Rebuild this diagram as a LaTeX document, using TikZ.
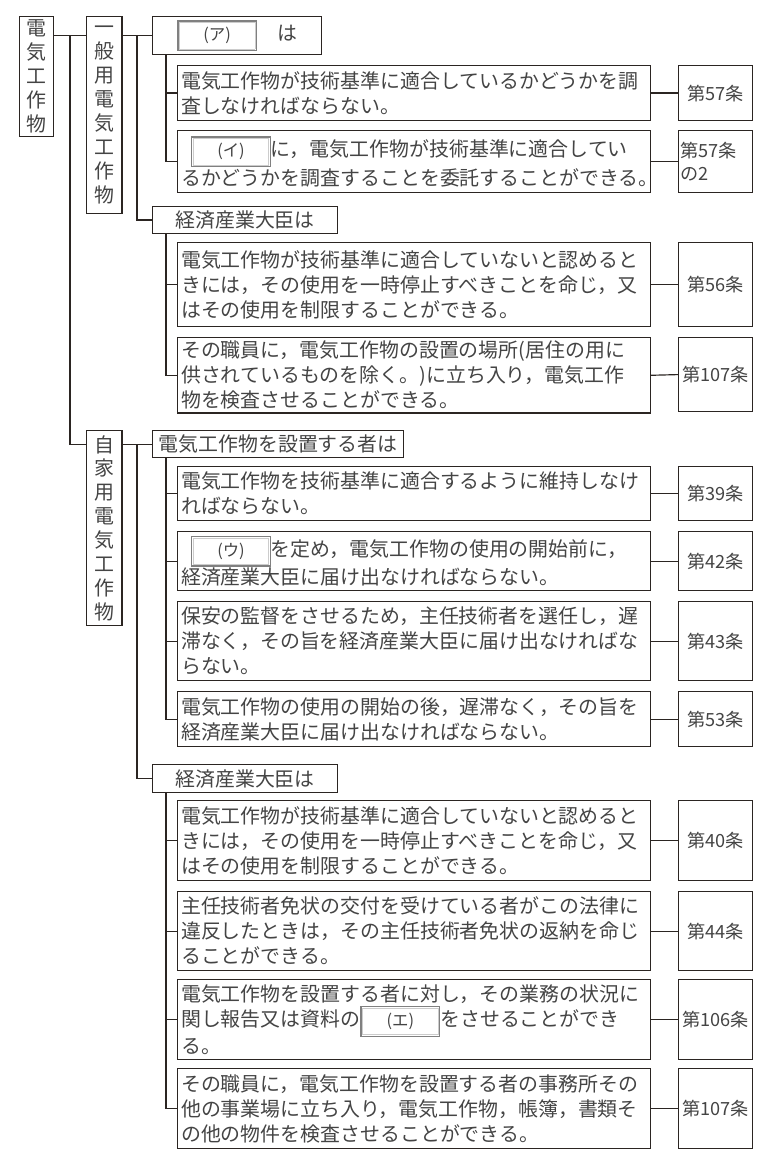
\documentclass[tikz,border=0pt]{standalone}
\usepackage{fontspec}
\setmainfont{Noto Sans CJK JP}
\usetikzlibrary{positioning}
\definecolor{ink}{HTML}{2B2522}
\definecolor{txt}{HTML}{444444}
\newcommand\blank[1]{{\setlength\fboxsep{0.6pt}\setlength\fboxrule{1.2pt}%
  \fcolorbox{gray}{white}{\setlength\fboxrule{0.4pt}\fcolorbox{gray!40}{white}{\makebox[2.2cm]{\rule[-0.22cm]{0pt}{0.74cm}\fontsize{14}{14}\selectfont #1}}}}}
\tikzset{
  box/.style={draw=ink, line width=1pt, text=txt, inner sep=3pt},
  cat/.style={box, anchor=north west, align=center, font=\fontsize{17}{20.4}\selectfont},
  head/.style={box, anchor=north west, align=left, font=\fontsize{17}{20}\selectfont},
  stmt/.style={box, anchor=north west, align=left, text width=13.98cm, font=\fontsize{17}{21.3}\selectfont},
  art/.style={box, anchor=north west, minimum width=2.22cm, inner sep=1pt, align=center, font=\fontsize{15.5}{20}\selectfont},
  link/.style={draw=ink, line width=1pt},
}
\begin{document}
\begin{tikzpicture}[x=0.03cm, y=-0.03cm]
        \useasboundingbox (0,0) rectangle (773,1159);
        % categories
        \node[cat, minimum width=0.99cm, minimum height=3.6cm, text width=0.8cm] (c0) at (19,16) {電\\気\\工\\作\\物};
        \node[cat, minimum width=1.05cm, minimum height=5.91cm, text width=0.85cm] (c1) at (86,16) {一\\般\\用\\電\\気\\工\\作\\物};
        \node[cat, minimum width=1.05cm, minimum height=5.85cm, text width=0.85cm] (c2) at (86,430) {自\\家\\用\\電\\気\\工\\作\\物};
        % headings
        \node[head, minimum width=5.07cm, minimum height=1.14cm] (h1) at (152,16) {\blank{(ア)}\quad は};
        \node[head, minimum width=5.55cm, minimum height=0.81cm] (h2) at (152,206) {経済産業大臣は};
        \node[head, minimum width=7.53cm, minimum height=0.81cm] (h3) at (152,430) {電気工作物を設置する者は};
        \node[head, minimum width=5.55cm, minimum height=0.84cm] (h4) at (152,764) {経済産業大臣は};
        % statements
        \node[stmt, minimum height=1.65cm] (s1) at (177,65) {電気工作物が技術基準に適合しているかどうかを調\\査しなければならない。};
        \node[stmt, minimum height=1.86cm] (s2) at (177,130) {\hspace{0.5em}\blank{(イ)}に，電気工作物が技術基準に適合してい\\るかどうかを調査することを委託することができる。};
        \node[stmt, minimum height=2.52cm] (s3) at (177,242) {電気工作物が技術基準に適合していないと認めると\\きには，その使用を一時停止すべきことを命じ，又\\はその使用を制限することができる。};
        \node[stmt, minimum height=2.22cm] (s4) at (177,337) {その職員に，電気工作物の設置の場所(居住の用に\\供されているものを除く。)に立ち入り，電気工作\\物を検査させることができる。};
        \node[stmt, minimum height=1.62cm] (s5) at (177,466) {電気工作物を技術基準に適合するように維持しなけ\\ればならない。};
        \node[stmt, minimum height=1.77cm] (s6) at (177,531) {\hspace{0.5em}\blank{(ウ)}を定め，電気工作物の使用の開始前に，\\経済産業大臣に届け出なければならない。};
        \node[stmt, minimum height=2.37cm] (s7) at (177,601) {保安の監督をさせるため，主任技術者を選任し，遅\\滞なく，その旨を経済産業大臣に届け出なければな\\らない。};
        \node[stmt, minimum height=1.65cm] (s8) at (177,691) {電気工作物の使用の開始の後，遅滞なく，その旨を\\経済産業大臣に届け出なければならない。};
        \node[stmt, minimum height=2.4cm] (s9) at (177,800) {電気工作物が技術基準に適合していないと認めると\\きには，その使用を一時停止すべきことを命じ，又\\はその使用を制限することができる。};
        \node[stmt, minimum height=2.37cm] (s10) at (177,891) {主任技術者免状の交付を受けている者がこの法律に\\違反したときは，その主任技術者免状の返納を命じ\\ることができる。};
        \node[stmt, minimum height=2.4cm] (s11) at (177,979) {電気工作物を設置する者に対し，その業務の状況に\\関し報告又は資料の\blank{(エ)}をさせることができ\\る。};
        \node[stmt, minimum height=2.4cm] (s12) at (177,1068) {その職員に，電気工作物を設置する者の事務所その\\他の事業場に立ち入り，電気工作物，帳簿，書類そ\\の他の物件を検査させることができる。};
        % articles
        \node[art, minimum height=1.65cm] (a1) at (678,65) {第57条};
        \node[art, minimum height=1.86cm, text width=2.1cm, align=left] (a2) at (678,130) {第57条\\の2};
        \node[art, minimum height=2.52cm] (a3) at (678,242) {第56条};
        \node[art, minimum height=2.22cm] (a4) at (678,337) {第107条};
        \node[art, minimum height=1.62cm] (a5) at (678,466) {第39条};
        \node[art, minimum height=1.77cm] (a6) at (678,531) {第42条};
        \node[art, minimum height=2.37cm] (a7) at (678,601) {第43条};
        \node[art, minimum height=1.65cm] (a8) at (678,691) {第53条};
        \node[art, minimum height=2.4cm] (a9) at (678,800) {第40条};
        \node[art, minimum height=2.37cm] (a10) at (678,891) {第44条};
        \node[art, minimum height=2.4cm] (a11) at (678,979) {第106条};
        \node[art, minimum height=2.4cm] (a12) at (678,1068) {第107条};
        \foreach \i in {1,...,12}
          \draw[link] (s\i.east) -- (a\i.west);
        % tree
        \coordinate (j0) at (70,0);
        \coordinate (j1) at (137,0);
        \coordinate (j2) at (166,0);
        \draw[link] (c0.east |- h1) -- (c1.west |- h1);
        \draw[link] (j0 |- h1) |- (c2.west |- h3);
        \draw[link] (c1.east |- h1) -- (h1.west);
        \draw[link] (j1 |- h1) |- (h2.west);
        \draw[link] (c2.east |- h3) -- (h3.west);
        \draw[link] (j1 |- h3) |- (h4.west);
        \draw[link] (j2 |- h1.south) |- (s2.west);
        \draw[link] (j2 |- s1) -- (s1.west);
        \draw[link] (j2 |- h2.south) |- (s4.west);
        \draw[link] (j2 |- s3) -- (s3.west);
        \draw[link] (j2 |- h3.south) |- (s8.west);
        \foreach \i in {5,6,7}
          \draw[link] (j2 |- s\i) -- (s\i.west);
        \draw[link] (j2 |- h4.south) |- (s12.west);
        \foreach \i in {9,10,11}
          \draw[link] (j2 |- s\i) -- (s\i.west);
\end{tikzpicture}
\end{document}
